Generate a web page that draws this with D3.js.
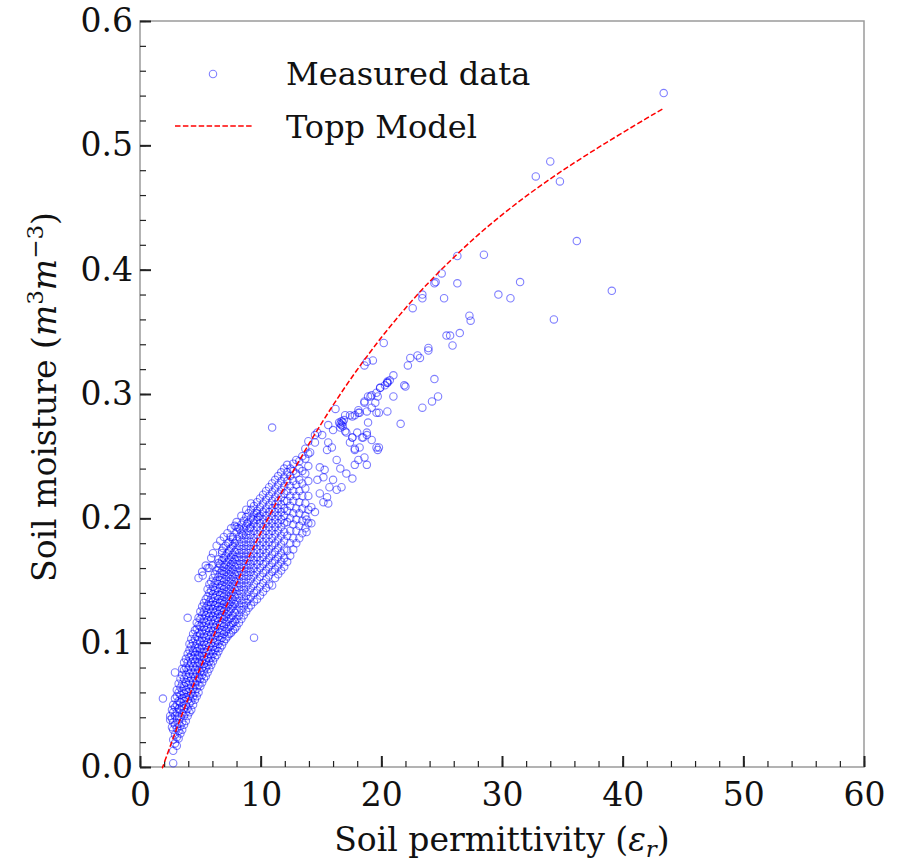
<!DOCTYPE html>
<html>
<head>
<meta charset="utf-8">
<script src="https://cdn.jsdelivr.net/npm/d3@7"></script>
<style>
  body { margin: 0; background: #fff; }
  svg text { font-family: "DejaVu Serif", serif; fill: #111; }
  .frame { fill: none; stroke: #9a9a9a; stroke-width: 1.5; }
  .axis path { display: none; }
  .axis line { stroke: #222; }
  .pt { fill: none; stroke: rgba(0, 0, 255, 0.5); stroke-width: 1.1; }
  .topp { fill: none; stroke: #ff0000; stroke-width: 1.5; stroke-dasharray: 5.5 2.4; }
</style>
</head>
<body>
<script>
// Topp model curve
var toppEps   = [1.9, 2, 3, 4, 5, 6, 7, 8, 9, 10, 12, 14, 16, 18, 20, 22, 24, 26, 28, 30, 32, 34, 36, 38, 40, 42, 43.4];
var toppTheta = [0.0005, 0.0032, 0.0298, 0.0553, 0.0798, 0.1033, 0.1259, 0.1476, 0.1684, 0.1883, 0.2256, 0.2598, 0.2910,
                 0.3195, 0.3454, 0.3690, 0.3904, 0.4098, 0.4278, 0.4441, 0.4591, 0.4730, 0.4860, 0.4983, 0.5102, 0.5218, 0.5298];

// dense cloud of measured data, one column of moisture values per permittivity
var bandEps = [2.5, 2.65, 2.75, 2.9, 3.05, 3.2, 3.35, 3.5, 3.65, 3.8, 3.95, 4.1, 4.25, 4.4, 4.55, 4.7, 4.85, 5.0, 5.15, 5.3, 5.45,
               5.6, 5.75, 5.9, 6.05, 6.2, 6.35, 6.5, 6.65, 6.8, 6.95, 7.1, 7.25, 7.4, 7.55, 7.7, 7.85, 8.0, 8.2, 8.4, 8.6, 8.8,
               9.0, 9.2, 9.45, 9.7, 9.95, 10.2, 10.45, 10.7, 10.95, 11.2, 11.45, 11.7, 11.95, 12.2, 12.45, 12.7, 12.95, 13.2,
               13.45, 13.7, 13.95];
var bandTheta = [
  [0.038, 0.041],
  [0.032, 0.039, 0.046],
  [0.003, 0.013, 0.022, 0.030, 0.036, 0.044, 0.050],
  [0.019, 0.026, 0.034, 0.041, 0.048, 0.055, 0.076],
  [0.017, 0.024, 0.031, 0.038, 0.044, 0.050, 0.057, 0.062],
  [0.023, 0.029, 0.035, 0.041, 0.047, 0.053, 0.060, 0.067],
  [0.027, 0.033, 0.040, 0.046, 0.052, 0.058, 0.064, 0.071],
  [0.030, 0.036, 0.043, 0.049, 0.055, 0.061, 0.067, 0.074, 0.079],
  [0.034, 0.041, 0.047, 0.053, 0.059, 0.065, 0.071, 0.078, 0.084],
  [0.037, 0.044, 0.050, 0.056, 0.062, 0.068, 0.074, 0.080, 0.087],
  [0.041, 0.047, 0.054, 0.060, 0.066, 0.072, 0.078, 0.084, 0.091, 0.120],
  [0.044, 0.051, 0.057, 0.063, 0.069, 0.075, 0.081, 0.088, 0.094, 0.099],
  [0.046, 0.053, 0.060, 0.066, 0.072, 0.078, 0.084, 0.090, 0.097, 0.103],
  [0.050, 0.057, 0.063, 0.069, 0.075, 0.081, 0.087, 0.093, 0.100, 0.107],
  [0.054, 0.060, 0.066, 0.072, 0.078, 0.084, 0.090, 0.096, 0.103, 0.110],
  [0.057, 0.063, 0.069, 0.075, 0.081, 0.087, 0.093, 0.099, 0.105, 0.111, 0.116],
  [0.060, 0.066, 0.072, 0.078, 0.084, 0.090, 0.096, 0.102, 0.108, 0.114, 0.120, 0.152],
  [0.065, 0.071, 0.077, 0.083, 0.089, 0.095, 0.101, 0.107, 0.113, 0.119, 0.125],
  [0.068, 0.074, 0.080, 0.086, 0.092, 0.098, 0.104, 0.110, 0.116, 0.122, 0.129, 0.157],
  [0.071, 0.077, 0.083, 0.089, 0.095, 0.101, 0.107, 0.113, 0.119, 0.125, 0.132],
  [0.073, 0.080, 0.086, 0.092, 0.098, 0.104, 0.110, 0.116, 0.122, 0.128, 0.135, 0.162],
  [0.076, 0.082, 0.088, 0.094, 0.100, 0.106, 0.112, 0.118, 0.124, 0.130, 0.137, 0.143],
  [0.079, 0.085, 0.091, 0.097, 0.103, 0.109, 0.115, 0.121, 0.127, 0.133, 0.140, 0.147, 0.160],
  [0.082, 0.088, 0.094, 0.100, 0.106, 0.112, 0.118, 0.124, 0.130, 0.136, 0.142, 0.149, 0.168],
  [0.085, 0.091, 0.097, 0.103, 0.109, 0.115, 0.121, 0.127, 0.133, 0.139, 0.145, 0.152, 0.172],
  [0.088, 0.094, 0.100, 0.106, 0.112, 0.118, 0.124, 0.130, 0.136, 0.142, 0.148, 0.155],
  [0.090, 0.096, 0.102, 0.108, 0.114, 0.120, 0.126, 0.132, 0.138, 0.144, 0.150, 0.158, 0.178],
  [0.093, 0.099, 0.105, 0.111, 0.117, 0.123, 0.129, 0.135, 0.141, 0.147, 0.153, 0.160, 0.167],
  [0.096, 0.102, 0.108, 0.114, 0.120, 0.126, 0.132, 0.138, 0.144, 0.150, 0.156, 0.163, 0.182],
  [0.098, 0.104, 0.110, 0.116, 0.122, 0.128, 0.134, 0.140, 0.146, 0.152, 0.158, 0.166, 0.174],
  [0.101, 0.107, 0.113, 0.119, 0.125, 0.131, 0.137, 0.143, 0.149, 0.155, 0.161, 0.168, 0.185],
  [0.103, 0.109, 0.115, 0.121, 0.127, 0.133, 0.139, 0.145, 0.151, 0.157, 0.163, 0.170, 0.178],
  [0.105, 0.111, 0.117, 0.123, 0.129, 0.135, 0.141, 0.147, 0.153, 0.159, 0.165, 0.172, 0.188],
  [0.107, 0.113, 0.119, 0.125, 0.131, 0.137, 0.143, 0.149, 0.155, 0.161, 0.167, 0.174, 0.181],
  [0.108, 0.114, 0.120, 0.127, 0.133, 0.139, 0.145, 0.151, 0.157, 0.163, 0.169, 0.176, 0.192],
  [0.110, 0.116, 0.122, 0.129, 0.135, 0.141, 0.147, 0.153, 0.159, 0.165, 0.171, 0.178, 0.185],
  [0.111, 0.117, 0.124, 0.131, 0.137, 0.143, 0.149, 0.155, 0.161, 0.167, 0.173, 0.180, 0.194],
  [0.113, 0.119, 0.126, 0.133, 0.139, 0.145, 0.151, 0.157, 0.163, 0.169, 0.175, 0.182, 0.189, 0.197],
  [0.116, 0.122, 0.129, 0.136, 0.142, 0.148, 0.154, 0.160, 0.166, 0.172, 0.178, 0.185, 0.192],
  [0.119, 0.126, 0.132, 0.139, 0.145, 0.151, 0.157, 0.163, 0.169, 0.175, 0.181, 0.188, 0.195, 0.202],
  [0.122, 0.129, 0.135, 0.142, 0.148, 0.154, 0.160, 0.166, 0.172, 0.178, 0.184, 0.191, 0.198],
  [0.125, 0.132, 0.138, 0.145, 0.151, 0.157, 0.163, 0.169, 0.175, 0.181, 0.187, 0.194, 0.201, 0.207],
  [0.128, 0.135, 0.141, 0.148, 0.154, 0.160, 0.166, 0.172, 0.178, 0.184, 0.190, 0.197, 0.204],
  [0.130, 0.137, 0.144, 0.151, 0.157, 0.163, 0.169, 0.175, 0.181, 0.187, 0.193, 0.200, 0.207, 0.212],
  [0.104, 0.133, 0.140, 0.147, 0.154, 0.160, 0.166, 0.172, 0.178, 0.184, 0.190, 0.196, 0.203, 0.210],
  [0.135, 0.142, 0.150, 0.157, 0.163, 0.169, 0.175, 0.181, 0.187, 0.193, 0.199, 0.206, 0.213],
  [0.138, 0.145, 0.153, 0.160, 0.166, 0.172, 0.178, 0.184, 0.190, 0.196, 0.202, 0.209, 0.216],
  [0.141, 0.148, 0.156, 0.163, 0.169, 0.175, 0.181, 0.187, 0.193, 0.199, 0.205, 0.212, 0.219],
  [0.144, 0.151, 0.158, 0.165, 0.172, 0.178, 0.184, 0.190, 0.196, 0.202, 0.208, 0.215, 0.222],
  [0.147, 0.154, 0.161, 0.168, 0.175, 0.181, 0.187, 0.193, 0.199, 0.205, 0.211, 0.218, 0.225],
  [0.146, 0.157, 0.164, 0.171, 0.178, 0.184, 0.190, 0.196, 0.202, 0.208, 0.214, 0.221, 0.228, 0.273],
  [0.152, 0.159, 0.166, 0.173, 0.180, 0.187, 0.193, 0.199, 0.205, 0.211, 0.217, 0.224, 0.231],
  [0.155, 0.162, 0.169, 0.176, 0.183, 0.190, 0.196, 0.202, 0.208, 0.214, 0.220, 0.227, 0.234],
  [0.158, 0.165, 0.172, 0.179, 0.186, 0.193, 0.199, 0.205, 0.211, 0.217, 0.223, 0.230, 0.237],
  [0.161, 0.168, 0.175, 0.182, 0.189, 0.196, 0.202, 0.208, 0.214, 0.220, 0.226, 0.233, 0.240],
  [0.165, 0.174, 0.186, 0.197, 0.206, 0.214, 0.222, 0.230, 0.237, 0.243],
  [0.170, 0.180, 0.190, 0.200, 0.210, 0.218, 0.226, 0.234, 0.240],
  [0.175, 0.184, 0.195, 0.204, 0.214, 0.222, 0.230, 0.238, 0.244],
  [0.180, 0.190, 0.199, 0.208, 0.218, 0.227, 0.236, 0.247],
  [0.184, 0.194, 0.204, 0.213, 0.222, 0.231, 0.240, 0.246],
  [0.188, 0.198, 0.208, 0.218, 0.228, 0.238, 0.250],
  [0.192, 0.202, 0.212, 0.224, 0.236, 0.248, 0.256],
  [0.196, 0.207, 0.218, 0.230, 0.242, 0.252, 0.262]
];

// scattered measured points (fringe, branches and outliers)
var sparseEps = [1.9, 5.2, 5.6, 6.0, 6.5, 6.8, 6.9, 7.3, 7.5, 7.7, 8.0, 8.3, 8.5, 8.9, 9.1, 9.4, 9.7, 9.8,
  16.2, 17.0, 17.8, 18.2, 18.8, 19.2, 19.5, 19.7, 19.6, 19.6,
  15.6, 16.0, 16.6, 16.8, 14.7, 15.1, 14.5, 14.1, 15.6, 15.5, 15.9,
  17.1, 17.6, 18.0, 18.5, 18.8, 17.8, 18.2, 18.6, 18.1, 18.8, 17.8, 19.6, 19.7,
  16.3, 16.6, 17.1, 17.6, 14.9, 15.3, 15.2, 14.7, 16.0, 15.7, 16.3, 16.7,
  14.9, 15.5, 15.2, 15.6, 14.2, 14.5, 13.8, 14.2, 13.8,
  16.7, 16.5, 17.0, 16.9, 16.6, 16.8, 16.7,
  18.6, 19.1, 19.9, 20.3, 20.5, 20.5, 21.0, 21.0, 21.9,
  17.4, 18.1, 18.6, 18.9, 19.2, 19.9, 20.5, 20.7,
  17.6, 18.4, 18.8, 19.2, 17.4,
  18.9, 20.5, 19.8, 21.6, 19.8, 17.8, 17.6, 18.1, 14.5,
  18.6, 18.8, 19.3, 20.2, 22.2, 22.4, 23.0, 23.2, 23.9, 23.9,
  22.0, 24.4, 23.4, 24.2, 24.7, 25.4, 25.7, 25.9, 26.5, 27.3, 27.4,
  22.6, 23.4, 23.4, 25.2, 24.4, 24.5, 26.3, 25.0, 26.3, 28.5,
  29.7, 30.7, 31.5, 32.8, 34.0, 34.8, 36.2, 34.3, 39.1, 43.4];
var sparseTheta = [0.055, 0.154, 0.160, 0.162, 0.164, 0.172, 0.176, 0.180, 0.185, 0.183, 0.193, 0.191, 0.187, 0.196, 0.192, 0.199, 0.204, 0.201,
  0.288, 0.283, 0.283, 0.285, 0.286, 0.289, 0.293, 0.298, 0.301, 0.285,
  0.275, 0.271, 0.273, 0.277, 0.269, 0.267, 0.261, 0.253, 0.261, 0.255, 0.257,
  0.269, 0.265, 0.269, 0.265, 0.269, 0.255, 0.257, 0.249, 0.247, 0.243, 0.243, 0.257, 0.255,
  0.247, 0.240, 0.236, 0.232, 0.241, 0.239, 0.233, 0.231, 0.231, 0.225, 0.223, 0.225,
  0.220, 0.217, 0.213, 0.212, 0.209, 0.205, 0.199, 0.196, 0.189,
  0.275, 0.277, 0.270, 0.279, 0.276, 0.274, 0.278,
  0.294, 0.298, 0.305, 0.307, 0.309, 0.310, 0.315, 0.298, 0.307,
  0.283, 0.287, 0.293, 0.298, 0.299, 0.305, 0.309, 0.311,
  0.265, 0.265, 0.267, 0.263, 0.261,
  0.277, 0.286, 0.285, 0.276, 0.257, 0.256, 0.282, 0.285, 0.267,
  0.323, 0.326, 0.327, 0.341, 0.323, 0.329, 0.331, 0.329, 0.337, 0.335,
  0.306, 0.312, 0.289, 0.294, 0.298, 0.347, 0.347, 0.339, 0.349, 0.363, 0.359,
  0.369, 0.380, 0.377, 0.377, 0.389, 0.390, 0.389, 0.397, 0.411, 0.412,
  0.380, 0.377, 0.390, 0.475, 0.487, 0.471, 0.423, 0.360, 0.383, 0.542];

var xTicks = [0, 10, 20, 30, 40, 50, 60];
var yTicks = [0.0, 0.1, 0.2, 0.3, 0.4, 0.5, 0.6];

var width = 907,
    height = 865;

var svg = d3.select("body")
    .append("svg")
    .attr("width", width)
    .attr("height", height);

var x = d3.scaleLinear().domain([0, 60]).range([140, 864]);
var y = d3.scaleLinear().domain([0, 0.6]).range([767, 21]);

// flatten the measured data
var measured = [];
bandEps.forEach(function(e, i){
    bandTheta[i].forEach(function(t){ measured.push([e, t]); });
});
sparseEps.forEach(function(e, i){ measured.push([e, sparseTheta[i]]); });

//frame
svg.append("rect")
    .attr("class", "frame")
    .attr("x", x(0))
    .attr("y", y(0.6))
    .attr("width", x(60) - x(0))
    .attr("height", y(0) - y(0.6));

//minor ticks
svg.append("g")
    .attr("class", "axis")
    .attr("transform", "translate(0," + y(0) + ")")
    .call(d3.axisBottom(x).tickValues(d3.range(0, 61, 2)).tickSize(-6).tickFormat(""))
    .selectAll("line").attr("stroke-width", 1.2);
svg.append("g")
    .attr("class", "axis")
    .attr("transform", "translate(" + x(0) + ",0)")
    .call(d3.axisLeft(y).tickValues(d3.range(0, 0.601, 0.02)).tickSize(-6).tickFormat(""))
    .selectAll("line").attr("stroke-width", 1.2);

//major ticks with labels
var xAxis = svg.append("g")
    .attr("class", "axis")
    .attr("transform", "translate(0," + y(0) + ")")
    .call(d3.axisBottom(x).tickValues(xTicks).tickSize(-11).tickPadding(16).tickFormat(d3.format("d")));
var yAxis = svg.append("g")
    .attr("class", "axis")
    .attr("transform", "translate(" + x(0) + ",0)")
    .call(d3.axisLeft(y).tickValues(yTicks).tickSize(-11).tickPadding(7).tickFormat(d3.format(".1f")));
[xAxis, yAxis].forEach(function(a){
    a.selectAll("line").attr("stroke-width", 2);
    a.selectAll("text").style("font-size", "33px").attr("fill", "#111");
});

//measured points
svg.append("g").selectAll("circle")
    .data(measured)
    .enter()
    .append("circle")
    .attr("class", "pt")
    .attr("cx", function(d){ return x(d[0]); })
    .attr("cy", function(d){ return y(d[1]); })
    .attr("r", 3.7);

//Topp model
var line = d3.line()
    .x(function(d){ return x(d[0]); })
    .y(function(d){ return y(d[1]); })
    .curve(d3.curveNatural);
svg.append("path")
    .datum(toppEps.map(function(e, i){ return [e, toppTheta[i]]; }))
    .attr("class", "topp")
    .attr("d", line);

//legend
svg.append("circle").attr("class", "pt").attr("cx", 213).attr("cy", 74).attr("r", 3.7);
svg.append("line").attr("class", "topp").attr("x1", 175).attr("x2", 253).attr("y1", 126).attr("y2", 126);
svg.append("text").attr("x", 286).attr("y", 85).style("font-size", "32px").text("Measured data");
svg.append("text").attr("x", 286).attr("y", 138).style("font-size", "32px").text("Topp Model");

//axis titles
var xt = svg.append("text")
    .attr("x", 502)
    .attr("y", 851)
    .attr("text-anchor", "middle")
    .style("font-size", "33px");
xt.append("tspan").text("Soil permittivity (");
xt.append("tspan").style("font-style", "italic").text("ε");
xt.append("tspan").attr("baseline-shift", "-25%").style("font-size", "23px").style("font-style", "italic").text("r");
xt.append("tspan").text(")");

var yt = svg.append("text")
    .attr("transform", "translate(56,397) rotate(-90)")
    .attr("text-anchor", "middle")
    .style("font-size", "33px");
yt.append("tspan").text("Soil moisture (");
yt.append("tspan").style("font-style", "italic").text("m");
yt.append("tspan").attr("baseline-shift", "super").style("font-size", "23px").text("3");
yt.append("tspan").style("font-style", "italic").text("m");
yt.append("tspan").attr("baseline-shift", "super").style("font-size", "23px").text("−3");
yt.append("tspan").text(")");
</script>
</body>
</html>
